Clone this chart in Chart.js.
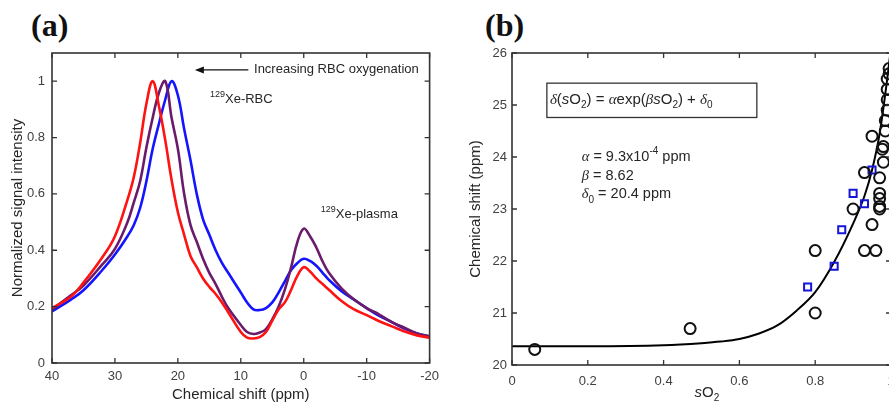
<!DOCTYPE html>
<html>
<head>
<meta charset="utf-8">
<script src="https://cdn.jsdelivr.net/npm/chart.js@4.4.1/dist/chart.umd.min.js"></script>
<style>
  html, body { margin: 0; padding: 0; background: #fff; overflow: hidden; width: 889px; height: 408px; }
  .panel { position: absolute; top: 0; height: 408px; }
  #panelA { left: 0; width: 445px; }
  #panelB { left: 445px; width: 470px; }
  .tag { position: absolute; top: 7px; font: bold 32px "Liberation Serif", "DejaVu Serif", serif; color: #111; }
</style>
</head>
<body>
<div class="tag" style="left:31px">(a)</div>
<div class="tag" style="left:485px">(b)</div>
<div class="panel" id="panelA"><canvas id="spectraChart"></canvas></div>
<div class="panel" id="panelB"><canvas id="shiftChart"></canvas></div>
<script>
// panel (a): spectra, chemical shift in ppm
const shifts = [40, 37, 35, 32, 30, 28, 27, 26, 25, 24, 23, 22, 21, 20, 19, 18, 17, 16, 15, 14, 13, 12, 10, 9, 8,
  7, 6, 5, 4, 3, 2, 1, 0, -1, -2, -3, -4, -6, -8, -10, -12, -14, -16, -18, -20];
const redSpectrum = [0.195, 0.235, 0.285, 0.375, 0.45, 0.58, 0.66, 0.78, 0.92, 1.0, 0.91, 0.79, 0.65, 0.535, 0.455,
  0.38, 0.34, 0.30, 0.27, 0.245, 0.215, 0.18, 0.11, 0.09, 0.087,
  0.092, 0.11, 0.15, 0.19, 0.215, 0.26, 0.31, 0.34, 0.325, 0.30, 0.28, 0.26, 0.22, 0.19, 0.17, 0.148, 0.13, 0.112, 0.098, 0.09];
const purpleSpectrum = [0.19, 0.24, 0.275, 0.35, 0.405, 0.50, 0.57, 0.645, 0.765, 0.87, 0.96, 1.0, 0.87, 0.76, 0.60,
  0.49, 0.43, 0.37, 0.32, 0.28, 0.235, 0.195, 0.135, 0.11, 0.103,
  0.108, 0.12, 0.155, 0.20, 0.26, 0.34, 0.43, 0.477, 0.45, 0.41, 0.36, 0.32, 0.265, 0.225, 0.195, 0.172, 0.145, 0.125, 0.105, 0.095];
const blueSpectrum = [0.183, 0.225, 0.258, 0.33, 0.385, 0.45, 0.49, 0.55, 0.645, 0.76, 0.85, 0.935, 1.0, 0.95, 0.83,
  0.72, 0.60, 0.51, 0.455, 0.40, 0.355, 0.32, 0.25, 0.215, 0.19,
  0.188, 0.195, 0.215, 0.25, 0.29, 0.33, 0.355, 0.37, 0.362, 0.345, 0.32, 0.295, 0.255, 0.225, 0.195, 0.167, 0.145, 0.122, 0.105, 0.093];

// panel (b): shift vs sO2
const circleSO2 = [0.06, 0.47, 0.80, 0.80, 0.90, 0.93, 0.93, 0.95, 0.95, 0.96, 0.97, 0.97, 0.97, 0.97, 0.97,
  0.977, 0.98, 0.98, 0.985, 0.985, 0.99, 0.99, 0.99, 0.99, 0.995, 0.995];
const circleShift = [20.3, 20.7, 22.2, 21.0, 23.0, 23.7, 22.2, 24.4, 22.7, 22.2, 23.0, 23.05, 23.2, 23.3, 23.6,
  24.15, 23.9, 24.2, 24.5, 24.7, 24.9, 25.1, 25.3, 25.5, 25.6, 25.7];
const squareSO2 = [0.78, 0.85, 0.87, 0.90, 0.93, 0.95];
const squareShift = [21.5, 21.9, 22.6, 23.3, 23.1, 23.75];
const fitSO2 = [0, 0.2, 0.4, 0.5, 0.55, 0.6, 0.65, 0.7, 0.75, 0.8, 0.85, 0.9, 0.93, 0.95, 0.97, 0.99, 1.0];
const fitShift = [20.36, 20.36, 20.38, 20.42, 20.45, 20.5, 20.6, 20.76, 21.04, 21.4, 21.98, 22.72, 23.25, 23.75, 24.45, 25.5, 26.1];

const pairs = (xs, ys) => xs.map((v, i) => ({ x: v, y: ys[i] }));
const tickColor = "#404040";
const titleColor = "#262626";
const sansFamily = '"Liberation Sans", Arial, Helvetica, sans-serif';
Chart.defaults.font.family = sansFamily;

const trimNumber = v => String(Math.round(v * 10) / 10);

// MATLAB style box with inward ticks on all four sides
const frameTicks = {
  id: "frameTicks",
  afterDraw(chart) {
    const { ctx, chartArea: a, scales: { x, y } } = chart;
    ctx.save();
    ctx.strokeStyle = "#333";
    ctx.lineWidth = 1.6;
    ctx.strokeRect(a.left, a.top, a.right - a.left, a.bottom - a.top);
    ctx.lineWidth = 1.3;
    ctx.beginPath();
    x.ticks.forEach(t => {
      const px = x.getPixelForValue(t.value);
      ctx.moveTo(px, a.bottom); ctx.lineTo(px, a.bottom - 5);
      ctx.moveTo(px, a.top); ctx.lineTo(px, a.top + 5);
    });
    y.ticks.forEach(t => {
      const py = y.getPixelForValue(t.value);
      ctx.moveTo(a.left, py); ctx.lineTo(a.left + 5, py);
      ctx.moveTo(a.right, py); ctx.lineTo(a.right - 5, py);
    });
    ctx.stroke();
    ctx.restore();
  }
};

// text with italic / greek / sub / sup pieces
function drawRich(ctx, x, y, parts, size) {
  parts.forEach(p => {
    const small = p.sub || p.sup;
    const fs = small ? Math.round(size * 0.68) : size;
    const family = p.greek ? '"Liberation Serif", "DejaVu Serif", serif' : sansFamily;
    ctx.font = `${p.it || p.greek ? "italic " : ""}${fs}px ${family}`;
    const dy = p.sub ? size * 0.38 : p.sup ? -size * 0.42 : 0;
    ctx.fillText(p.t, x, y + dy);
    x += ctx.measureText(p.t).width;
  });
  return x;
}

const spectraNotes = {
  id: "spectraNotes",
  afterDraw(chart) {
    const { ctx, scales: { x, y } } = chart;
    ctx.save();
    ctx.fillStyle = titleColor;
    ctx.strokeStyle = "#111";
    ctx.textBaseline = "middle";
    ctx.textAlign = "left";
    const ay = y.getPixelForValue(1.04);
    const ax0 = x.getPixelForValue(8.8);
    const ax1 = x.getPixelForValue(17.3);
    ctx.lineWidth = 1.2;
    ctx.beginPath();
    ctx.moveTo(ax0, ay); ctx.lineTo(ax1 + 6, ay);
    ctx.stroke();
    ctx.beginPath();
    ctx.moveTo(ax1, ay); ctx.lineTo(ax1 + 9, ay - 3.5); ctx.lineTo(ax1 + 9, ay + 3.5); ctx.closePath();
    ctx.fillStyle = "#111";
    ctx.fill();
    ctx.fillStyle = titleColor;
    drawRich(ctx, x.getPixelForValue(7.9), ay, [{ t: "Increasing RBC oxygenation" }], 13);
    drawRich(ctx, x.getPixelForValue(14.9), y.getPixelForValue(0.935), [{ t: "129", sup: true }, { t: "Xe-RBC" }], 13);
    drawRich(ctx, x.getPixelForValue(-2.7), y.getPixelForValue(0.527), [{ t: "129", sup: true }, { t: "Xe-plasma" }], 13);
    ctx.restore();
  }
};

const fitNotes = {
  id: "fitNotes",
  afterDraw(chart) {
    const { ctx, chartArea: a, scales: { x, y } } = chart;
    ctx.save();
    ctx.fillStyle = titleColor;
    ctx.strokeStyle = "#333";
    ctx.lineWidth = 1.3;
    ctx.textBaseline = "middle";
    const bx0 = x.getPixelForValue(0.092), bx1 = x.getPixelForValue(0.646);
    const by0 = y.getPixelForValue(25.42), by1 = y.getPixelForValue(24.76);
    ctx.strokeRect(bx0, by0, bx1 - bx0, by1 - by0);
    drawRich(ctx, x.getPixelForValue(0.1), y.getPixelForValue(25.1), [
      { t: "δ", greek: true }, { t: "(" }, { t: "s", it: true }, { t: "O" }, { t: "2", sub: true }, { t: ") = " },
      { t: "α", greek: true }, { t: "exp(" }, { t: "β", greek: true }, { t: "s", it: true }, { t: "O" }, { t: "2", sub: true },
      { t: ") + " }, { t: "δ", greek: true }, { t: "0", sub: true }
    ], 15);
    const px = x.getPixelForValue(0.184);
    drawRich(ctx, px, y.getPixelForValue(24.0), [{ t: "α", greek: true }, { t: " = 9.3x10" }, { t: "-4", sup: true }, { t: " ppm" }], 14.5);
    drawRich(ctx, px, y.getPixelForValue(23.64), [{ t: "β", greek: true }, { t: " = 8.62" }], 14.5);
    drawRich(ctx, px, y.getPixelForValue(23.28), [{ t: "δ", greek: true }, { t: "0", sub: true }, { t: " = 20.4 ppm" }], 14.5);
    // x axis title: sO2
    const cx = (a.left + a.right) / 2 - 7;
    drawRich(ctx, cx, a.bottom + 28, [{ t: "s", it: true }, { t: "O" }, { t: "2", sub: true }], 15);
    ctx.restore();
  }
};

const lineStyle = color => ({
  borderColor: color,
  borderWidth: 2.6,
  pointRadius: 0,
  fill: false,
  tension: 0.4
});

new Chart(document.getElementById("spectraChart"), {
  type: "line",
  data: {
    datasets: [
      { label: "red", data: pairs(shifts, redSpectrum), ...lineStyle("#ff1212") },
      { label: "purple", data: pairs(shifts, purpleSpectrum), ...lineStyle("#6a1b6c") },
      { label: "blue", data: pairs(shifts, blueSpectrum), ...lineStyle("#1414ff") }
    ]
  },
  options: {
    responsive: true,
    maintainAspectRatio: false,
    animation: false,
    layout: { padding: { top: 53, right: 12, left: 0, bottom: 0 } },
    plugins: { legend: { display: false }, tooltip: { enabled: false } },
    scales: {
      x: {
        type: "linear",
        min: -20,
        max: 40,
        reverse: true,
        grid: { display: false, drawTicks: false },
        border: { display: false },
        ticks: { stepSize: 10, color: tickColor, font: { size: 13 }, padding: 6, callback: trimNumber },
        title: { display: true, text: "Chemical shift (ppm)", color: titleColor, font: { size: 15 }, padding: { top: 0, bottom: 4 } },
        afterFit: s => { s.height = 45; }
      },
      y: {
        min: 0,
        max: 1.1,
        grid: { display: false, drawTicks: false },
        border: { display: false },
        ticks: { stepSize: 0.2, includeBounds: false, color: tickColor, font: { size: 13 }, padding: 7, callback: trimNumber },
        title: { display: true, text: "Normalized signal intensity", color: titleColor, font: { size: 15 }, padding: { top: 9, bottom: 0 } },
        afterFit: s => { s.width = 52; }
      }
    }
  },
  plugins: [frameTicks, spectraNotes]
});

new Chart(document.getElementById("shiftChart"), {
  type: "scatter",
  data: {
    datasets: [
      {
        label: "circles",
        data: pairs(circleSO2, circleShift),
        pointStyle: "circle",
        pointRadius: 5.5,
        borderWidth: 2,
        borderColor: "#111",
        backgroundColor: "rgba(0,0,0,0)"
      },
      {
        label: "squares",
        data: pairs(squareSO2, squareShift),
        pointStyle: "rect",
        pointRadius: 5,
        borderWidth: 2,
        borderColor: "#1515d8",
        backgroundColor: "rgba(0,0,0,0)"
      },
      {
        label: "fit",
        type: "line",
        data: pairs(fitSO2, fitShift),
        borderColor: "#000",
        borderWidth: 2,
        pointRadius: 0,
        fill: false,
        cubicInterpolationMode: "monotone"
      }
    ]
  },
  options: {
    responsive: true,
    maintainAspectRatio: false,
    animation: false,
    layout: { padding: { top: 53, right: 24, left: 0, bottom: 0 } },
    plugins: { legend: { display: false }, tooltip: { enabled: false } },
    scales: {
      x: {
        type: "linear",
        min: 0,
        max: 1,
        grid: { display: false, drawTicks: false },
        border: { display: false },
        ticks: { stepSize: 0.2, color: tickColor, font: { size: 13 }, padding: 9, callback: trimNumber },
        afterFit: s => { s.height = 43; }
      },
      y: {
        min: 20,
        max: 26,
        grid: { display: false, drawTicks: false },
        border: { display: false },
        ticks: { stepSize: 1, color: tickColor, font: { size: 13 }, padding: 5, callback: trimNumber },
        title: { display: true, text: "Chemical shift (ppm)", color: titleColor, font: { size: 15 }, padding: { top: 22, bottom: 0 } },
        afterFit: s => { s.width = 67; }
      }
    }
  },
  plugins: [frameTicks, fitNotes]
});
</script>
</body>
</html>
